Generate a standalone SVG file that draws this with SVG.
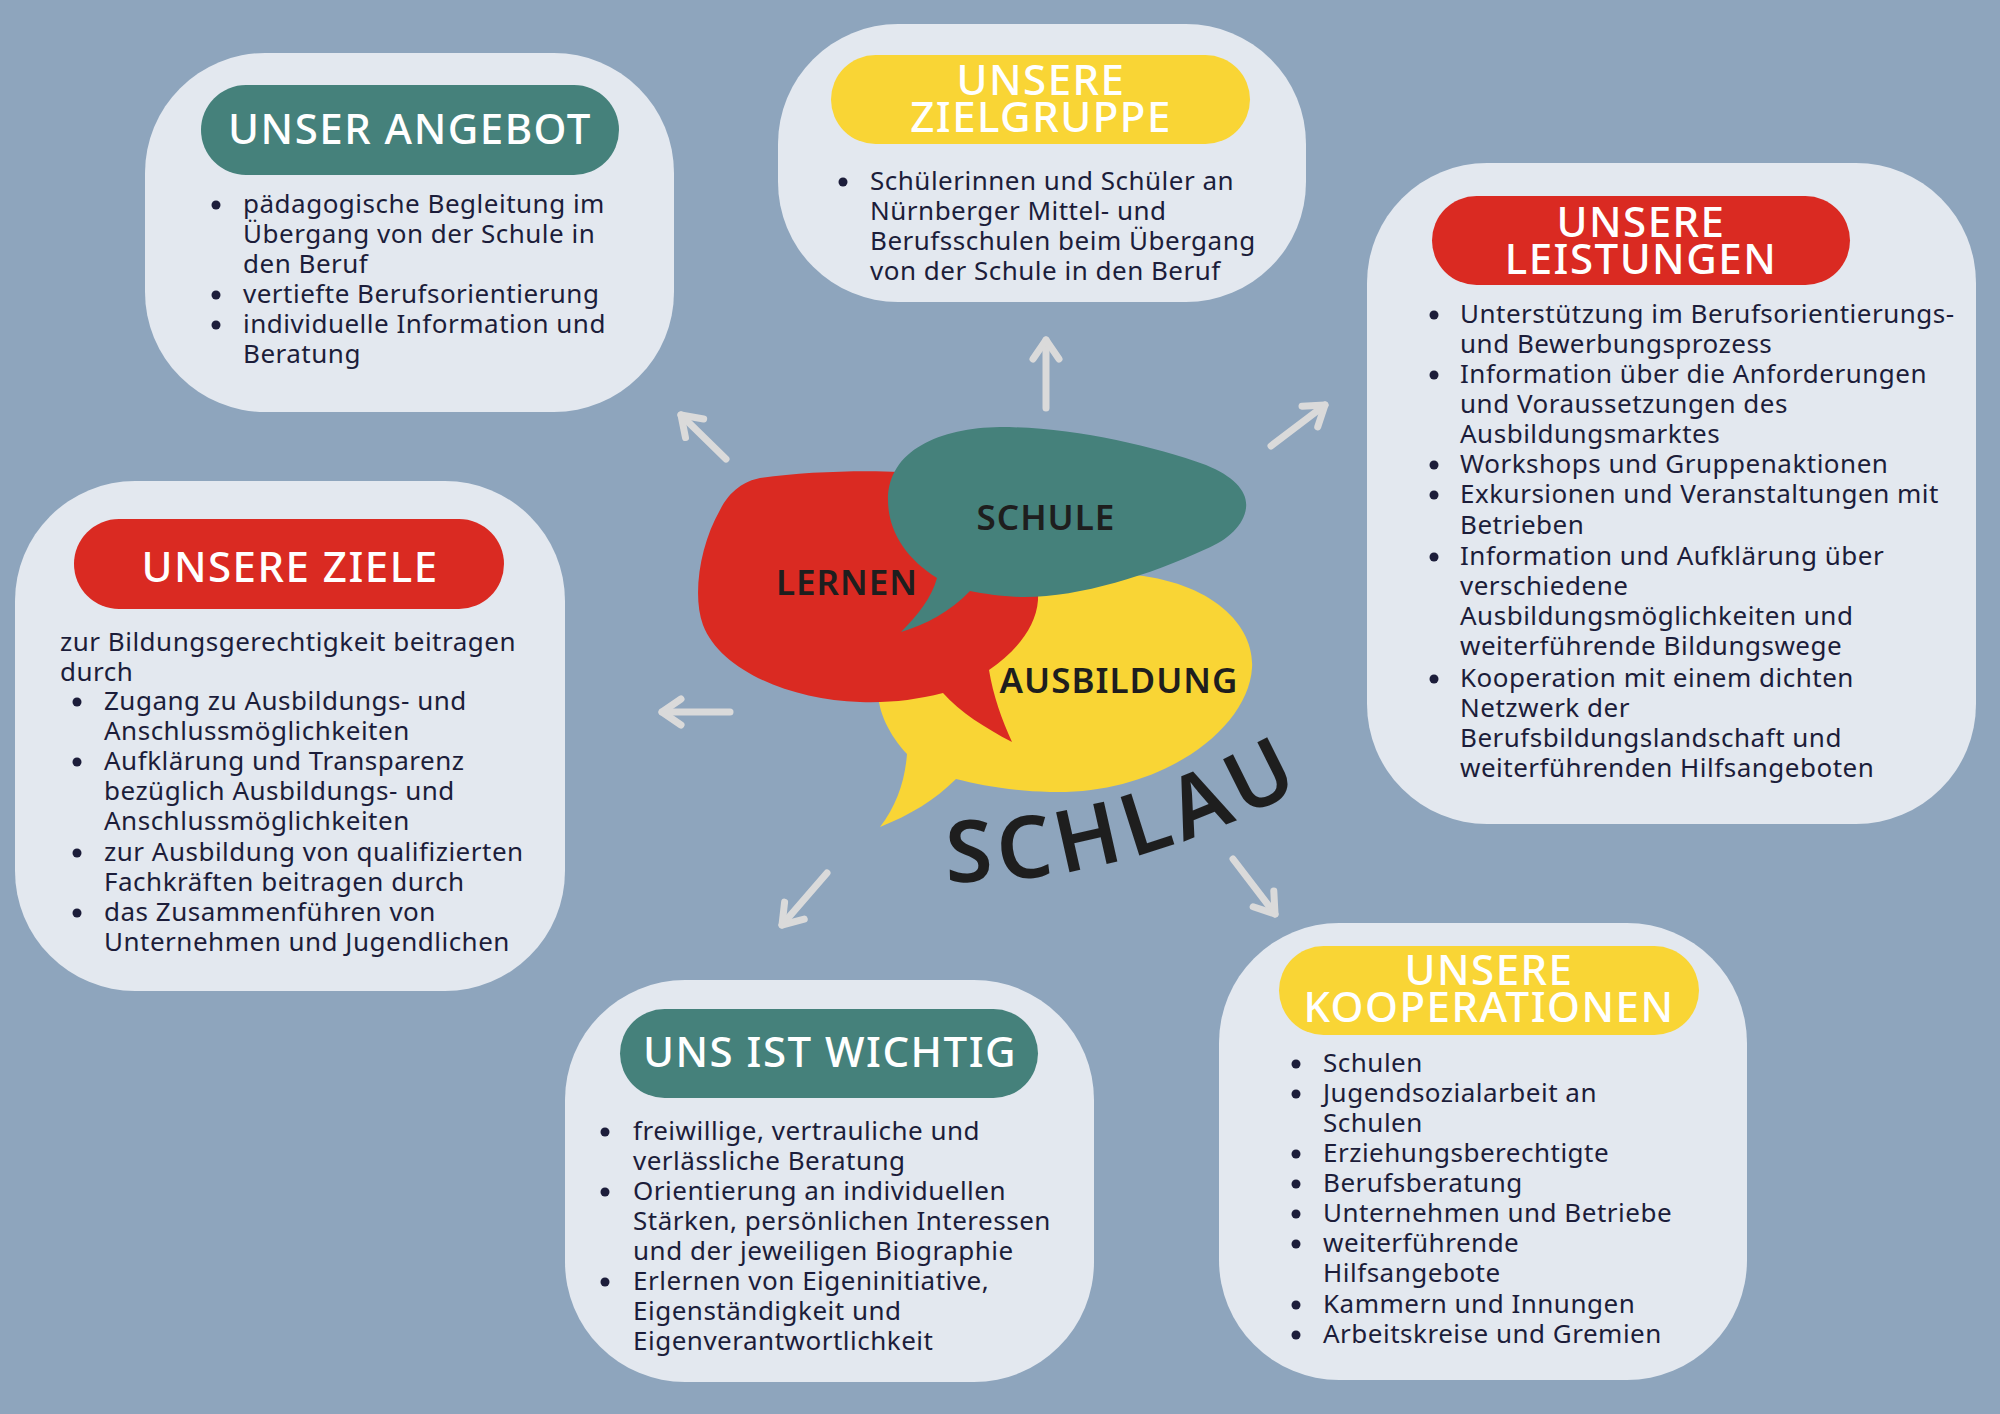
<svg xmlns="http://www.w3.org/2000/svg" width="2000" height="1414" viewBox="0 0 2000 1414">
<defs>
<style>
.bg{fill:#8ea5bd}
.box{fill:#e3e8ef}
.teal{fill:#45817b}
.red{fill:#da2a22}
.yel{fill:#f9d535}
.h{font-family:"Noto Sans","Liberation Sans",sans-serif;font-weight:500;font-size:42px;fill:#ffffff;text-anchor:middle;letter-spacing:1.5px}
.t{font-family:"Noto Sans","Liberation Sans",sans-serif;font-weight:400;font-size:26px;fill:#1c1d3a;letter-spacing:0.5px}
.dot{fill:#1c1d3a}
.lbl{font-family:"Noto Sans","Liberation Sans",sans-serif;font-weight:600;font-size:35px;fill:#1e1e1e;text-anchor:middle;letter-spacing:1px}
.schlau{font-family:"Noto Sans","Liberation Sans",sans-serif;font-weight:600;font-size:86px;fill:#1e1e1e;letter-spacing:7px}
.arr{fill:none;stroke:#dadada;stroke-width:7;stroke-linecap:round;stroke-linejoin:round}
</style>
<marker id="ah" markerUnits="userSpaceOnUse" markerWidth="60" markerHeight="60" viewBox="-30 -30 60 60" refX="0" refY="0" orient="auto" overflow="visible">
<path d="M -19 -13 L 0 0 L -19 13" fill="none" stroke="#dadada" stroke-width="7" stroke-linecap="round" stroke-linejoin="round"/>
</marker>
<path id="schlauPath" d="M 946 882 Q 1130 885 1320 778"/>
</defs>
<rect class="bg" x="0" y="0" width="2000" height="1414"/>

<g id="angebot">
<rect class="box" x="145" y="53" width="529" height="359" rx="120" ry="120"/>
<rect class="teal" x="201" y="85" width="418" height="90" rx="45" ry="45"/>
<text class="h" x="410" y="144">UNSER ANGEBOT</text>
<circle class="dot" cx="216" cy="205" r="4.5"/>
<circle class="dot" cx="216" cy="295" r="4.5"/>
<circle class="dot" cx="216" cy="325" r="4.5"/>
<text class="t" x="243" y="213">pädagogische Begleitung im</text>
<text class="t" x="243" y="243">Übergang von der Schule in</text>
<text class="t" x="243" y="273">den Beruf</text>
<text class="t" x="243" y="303">vertiefte Berufsorientierung</text>
<text class="t" x="243" y="333">individuelle Information und</text>
<text class="t" x="243" y="363">Beratung</text>
</g>

<g id="zielgruppe">
<rect class="box" x="778" y="24" width="528" height="278" rx="120" ry="120"/>
<rect class="yel" x="831" y="55" width="419" height="89" rx="44.5" ry="44.5"/>
<text class="h" x="1041" y="95">UNSERE</text>
<text class="h" x="1041" y="132">ZIELGRUPPE</text>
<circle class="dot" cx="843" cy="182" r="4.5"/>
<text class="t" x="870" y="190">Schülerinnen und Schüler an</text>
<text class="t" x="870" y="220">Nürnberger Mittel- und</text>
<text class="t" x="870" y="250">Berufsschulen beim Übergang</text>
<text class="t" x="870" y="280">von der Schule in den Beruf</text>
</g>

<g id="leistungen">
<rect class="box" x="1367" y="163" width="609" height="661" rx="120" ry="120"/>
<rect class="red" x="1432" y="196" width="418" height="89" rx="44.5" ry="44.5"/>
<text class="h" x="1641" y="237">UNSERE</text>
<text class="h" x="1641" y="274">LEISTUNGEN</text>
<circle class="dot" cx="1434" cy="315" r="4.5"/>
<circle class="dot" cx="1434" cy="375" r="4.5"/>
<circle class="dot" cx="1434" cy="465" r="4.5"/>
<circle class="dot" cx="1434" cy="495" r="4.5"/>
<circle class="dot" cx="1434" cy="557" r="4.5"/>
<circle class="dot" cx="1434" cy="679" r="4.5"/>
<text class="t" x="1460" y="323">Unterstützung im Berufsorientierungs-</text>
<text class="t" x="1460" y="353">und Bewerbungsprozess</text>
<text class="t" x="1460" y="383">Information über die Anforderungen</text>
<text class="t" x="1460" y="413">und Voraussetzungen des</text>
<text class="t" x="1460" y="443">Ausbildungsmarktes</text>
<text class="t" x="1460" y="473">Workshops und Gruppenaktionen</text>
<text class="t" x="1460" y="503">Exkursionen und Veranstaltungen mit</text>
<text class="t" x="1460" y="534">Betrieben</text>
<text class="t" x="1460" y="565">Information und Aufklärung über</text>
<text class="t" x="1460" y="595">verschiedene</text>
<text class="t" x="1460" y="625">Ausbildungsmöglichkeiten und</text>
<text class="t" x="1460" y="655">weiterführende Bildungswege</text>
<text class="t" x="1460" y="687">Kooperation mit einem dichten</text>
<text class="t" x="1460" y="717">Netzwerk der</text>
<text class="t" x="1460" y="747">Berufsbildungslandschaft und</text>
<text class="t" x="1460" y="777">weiterführenden Hilfsangeboten</text>
</g>

<g id="ziele">
<rect class="box" x="15" y="481" width="550" height="510" rx="120" ry="120"/>
<rect class="red" x="74" y="519" width="430" height="90" rx="45" ry="45"/>
<text class="h" x="290" y="582">UNSERE ZIELE</text>
<text class="t" x="60" y="651">zur Bildungsgerechtigkeit beitragen</text>
<text class="t" x="60" y="681">durch</text>
<circle class="dot" cx="77" cy="702" r="4.5"/>
<circle class="dot" cx="77" cy="762" r="4.5"/>
<circle class="dot" cx="77" cy="853" r="4.5"/>
<circle class="dot" cx="77" cy="913" r="4.5"/>
<text class="t" x="104" y="710">Zugang zu Ausbildungs- und</text>
<text class="t" x="104" y="740">Anschlussmöglichkeiten</text>
<text class="t" x="104" y="770">Aufklärung und Transparenz</text>
<text class="t" x="104" y="800">bezüglich Ausbildungs- und</text>
<text class="t" x="104" y="830">Anschlussmöglichkeiten</text>
<text class="t" x="104" y="861">zur Ausbildung von qualifizierten</text>
<text class="t" x="104" y="891">Fachkräften beitragen durch</text>
<text class="t" x="104" y="921">das Zusammenführen von</text>
<text class="t" x="104" y="951">Unternehmen und Jugendlichen</text>
</g>

<g id="wichtig">
<rect class="box" x="565" y="980" width="529" height="402" rx="120" ry="120"/>
<rect class="teal" x="620" y="1009" width="418" height="89" rx="44.5" ry="44.5"/>
<text class="h" x="830" y="1067">UNS IST WICHTIG</text>
<circle class="dot" cx="605" cy="1132" r="4.5"/>
<circle class="dot" cx="605" cy="1192" r="4.5"/>
<circle class="dot" cx="605" cy="1282" r="4.5"/>
<text class="t" x="633" y="1140">freiwillige, vertrauliche und</text>
<text class="t" x="633" y="1170">verlässliche Beratung</text>
<text class="t" x="633" y="1200">Orientierung an individuellen</text>
<text class="t" x="633" y="1230">Stärken, persönlichen Interessen</text>
<text class="t" x="633" y="1260">und der jeweiligen Biographie</text>
<text class="t" x="633" y="1290">Erlernen von Eigeninitiative,</text>
<text class="t" x="633" y="1320">Eigenständigkeit und</text>
<text class="t" x="633" y="1350">Eigenverantwortlichkeit</text>
</g>

<g id="kooperationen">
<rect class="box" x="1219" y="923" width="528" height="457" rx="120" ry="120"/>
<rect class="yel" x="1279" y="946" width="420" height="89" rx="44.5" ry="44.5"/>
<text class="h" x="1489" y="985">UNSERE</text>
<text class="h" x="1489" y="1022">KOOPERATIONEN</text>
<circle class="dot" cx="1296" cy="1064" r="4.5"/>
<circle class="dot" cx="1296" cy="1094" r="4.5"/>
<circle class="dot" cx="1296" cy="1154" r="4.5"/>
<circle class="dot" cx="1296" cy="1184" r="4.5"/>
<circle class="dot" cx="1296" cy="1214" r="4.5"/>
<circle class="dot" cx="1296" cy="1244" r="4.5"/>
<circle class="dot" cx="1296" cy="1305" r="4.5"/>
<circle class="dot" cx="1296" cy="1335" r="4.5"/>
<text class="t" x="1323" y="1072">Schulen</text>
<text class="t" x="1323" y="1102">Jugendsozialarbeit an</text>
<text class="t" x="1323" y="1132">Schulen</text>
<text class="t" x="1323" y="1162">Erziehungsberechtigte</text>
<text class="t" x="1323" y="1192">Berufsberatung</text>
<text class="t" x="1323" y="1222">Unternehmen und Betriebe</text>
<text class="t" x="1323" y="1252">weiterführende</text>
<text class="t" x="1323" y="1282">Hilfsangebote</text>
<text class="t" x="1323" y="1313">Kammern und Innungen</text>
<text class="t" x="1323" y="1343">Arbeitskreise und Gremien</text>
</g>

<g id="center">
<path class="yel" d="M 907 754 C 885 730 872 700 880 670 C 900 600 1030 570 1120 574 C 1210 578 1255 625 1252 668 C 1248 730 1160 795 1050 792 C 1010 791 980 785 956 779 C 935 800 910 815 880 827 C 897 805 905 780 907 754 Z"/>
<path class="red" d="M 760 478 C 800 472 860 470 900 472 C 990 478 1040 540 1038 600 C 1036 628 1015 652 989 670 C 993 695 1002 720 1012 742 C 985 728 960 712 943 693 C 915 700 890 703 860 702 C 790 700 720 670 703 625 C 692 595 700 545 720 510 C 730 490 745 481 760 478 Z"/>
<path class="teal" d="M 888 500 C 888 450 940 428 1000 427 C 1070 427 1150 445 1206 465 C 1235 477 1248 492 1246 508 C 1244 525 1228 540 1206 549 C 1150 575 1080 597 1025 597 C 1005 597 985 594 970 591 C 950 612 925 625 901 632 C 918 615 932 597 937 578 C 905 558 888 530 888 500 Z"/>
<text class="lbl" x="1046" y="530">SCHULE</text>
<text class="lbl" x="847" y="595">LERNEN</text>
<text class="lbl" x="1119" y="693">AUSBILDUNG</text>
<text class="schlau"><textPath href="#schlauPath">SCHLAU</textPath></text>
</g>

<g id="connectors">
<line class="arr" x1="726" y1="459" x2="681" y2="415" marker-end="url(#ah)"/>
<line class="arr" x1="1046" y1="408" x2="1046" y2="340" marker-end="url(#ah)"/>
<line class="arr" x1="1271" y1="446" x2="1325" y2="405" marker-end="url(#ah)"/>
<line class="arr" x1="730" y1="712" x2="662" y2="712" marker-end="url(#ah)"/>
<line class="arr" x1="827" y1="873" x2="782" y2="925" marker-end="url(#ah)"/>
<line class="arr" x1="1233" y1="859" x2="1275" y2="914" marker-end="url(#ah)"/>
</g>
</svg>
